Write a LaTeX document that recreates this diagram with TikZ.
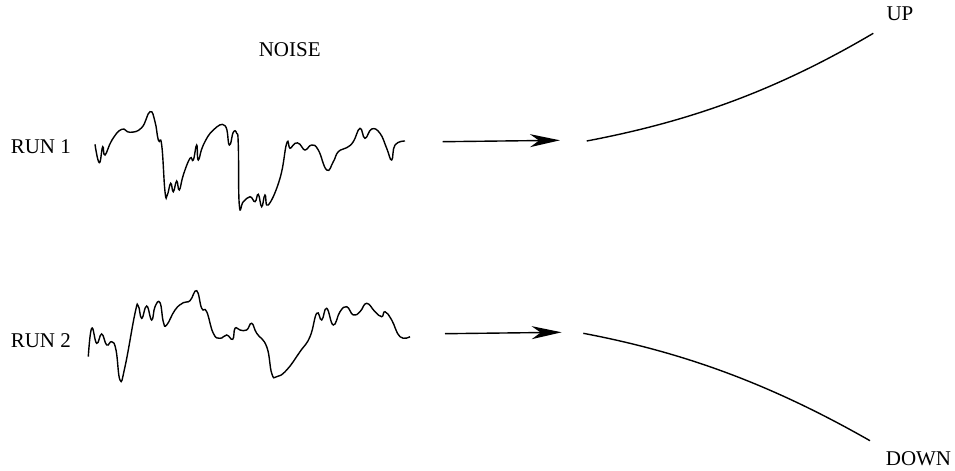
\documentclass[tikz,border=0pt]{standalone}
\usepackage{fontspec}
\setmainfont{Liberation Serif}
\usetikzlibrary{arrows.meta}
\begin{document}
\begin{tikzpicture}[x=0.5pt,y=-0.5pt,
  lbl/.style={inner sep=0pt,font=\fontsize{10.5}{12}\selectfont},
  noise/.style={line width=0.7pt,smooth,tension=0.8},
  outcome/.style={line width=0.7pt},
  flow/.style={line width=0.7pt,-{Stealth[length=15pt,width=6.5pt,inset=4.5pt]}}]
\useasboundingbox (0,0) rectangle (955,471);
% labels
\node[lbl] (noiselbl) at (289.7,49.5) {NOISE};
\node[lbl] (run1) at (40.8,147) {RUN 1};
\node[lbl] (run2) at (40.8,341) {RUN 2};
\node[lbl] (up) at (900,14) {UP};
\node[lbl] (down) at (918.5,458.5) {DOWN};
% noise run 1
\draw[noise] plot coordinates {(95,144.3) (99.3,162.7) (102.7,146.7) (105,155) (112,140) (121.7,129.3) (130,132.3) (141.7,127.7) (150,111.7) (155,121.7) (158.3,140) (161.7,145) (165,191.7) (167.3,195) (170.7,183.3) (173.3,191.7) (176.7,181) (179.3,190) (183.3,175) (190,158.3) (193.3,160) (196.7,145) (198.3,160) (203.3,145) (213.3,130) (225,125.7) (229.3,145) (233.3,132.3) (236.7,133.3) (238.3,145) (239.3,205) (243.3,201.7) (250,196.7) (255,201.7) (258.3,194.3) (261.7,206.7) (265,195) (268.3,205) (280,178.3) (286.7,143.3) (290,148.3) (295,143.3) (300,144.3) (305,150) (311.7,145) (318.3,150) (326.7,170) (333.3,161.7) (338.3,151.7) (346.7,147.7) (353.3,141.7) (360,128.3) (365,138.3) (371.7,129) (380,133.3) (386.7,148.3) (391.7,160) (395,145) (405,141)};
% noise run 2
\draw[noise] plot coordinates {(88.3,356.7) (91.7,328.3) (96.7,343.3) (101.7,334) (106.7,345) (111.7,341.7) (116,350) (120,380) (125,366.7) (135,313.3) (138.3,306) (141.7,318.3) (146.7,306) (151.7,320) (155,306.7) (160,302.7) (163.3,321.7) (166.7,325) (175,310) (183.3,302.7) (190,300.7) (196.7,290.7) (201.7,308.3) (206.7,311.7) (213.3,333.3) (220,338.3) (226.7,335) (232.7,339.3) (235,328.3) (240,330) (246.7,330) (251.7,323.3) (256.7,333.3) (266.7,346.7) (271.7,373.3) (276.7,376.7) (286.7,370) (300,351.7) (310,336.7) (316.7,313.3) (321.7,320) (326.7,308.3) (333.3,325) (340,311.7) (346.7,306.7) (353.3,315) (360,311.7) (366.7,303.3) (375,311.7) (381.7,316.7) (385,311.7) (391.7,320) (400,336.7) (410,336.7)};
% arrows
\coordinate (a1s) at (442.7,141.7);
\coordinate (a1e) at (560,140.3);
\coordinate (a2s) at (445,333.7);
\coordinate (a2e) at (561.7,332.3);
\draw[flow] (a1s) -- (a1e);
\draw[flow] (a2s) -- (a2e);
% outcome curves
\coordinate (u0) at (586.7,141);
\coordinate (u1) at (873.3,33.3);
\coordinate (d0) at (583.3,333.3);
\coordinate (d1) at (870,440.7);
\draw[outcome] (u0) .. controls (686.7,122) and (773.3,92.3) .. (u1);
\draw[outcome] (d0) .. controls (683.3,352.3) and (770,383.7) .. (d1);
\end{tikzpicture}
\end{document}
